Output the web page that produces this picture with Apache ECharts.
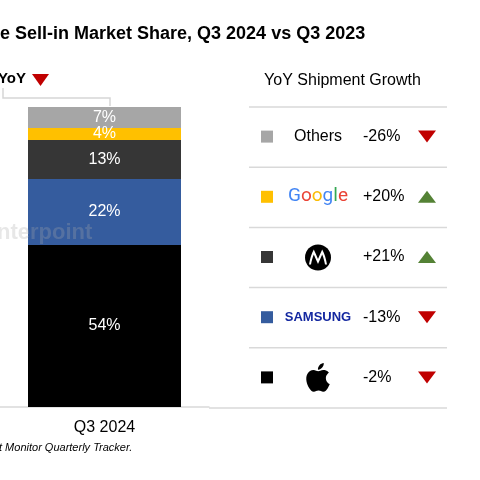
<!DOCTYPE html>
<html><head><meta charset="utf-8">
<script src="https://cdn.jsdelivr.net/npm/echarts@6/dist/echarts.min.js"></script>
<style>html,body{margin:0;padding:0;background:#fff}#c{width:480px;height:480px}</style>
</head><body><div id="c"></div>
<script>
const categories = ['Q3 2024'];
const brands = ['Apple', 'Samsung', 'Motorola', 'Google', 'Others'];
const share = [54, 22, 13, 4, 7];
const growth = [-2, -13, 21, 20, -26];
const brandColors = ['#000000', '#355C9E', '#363636', '#FFC000', '#A6A6A6'];

const FONT = '"Liberation Sans", Arial, sans-serif';
const APPLE_PATH = 'M12.152 6.896c-.948 0-2.415-1.078-3.96-1.04-2.04.027-3.91 1.183-4.961 3.014-2.117 3.675-.546 9.103 1.519 12.09 1.013 1.454 2.208 3.09 3.792 3.039 1.52-.065 2.09-.987 3.935-.987 1.831 0 2.35.987 3.96.948 1.637-.026 2.676-1.48 3.676-2.948 1.156-1.688 1.636-3.325 1.662-3.415-.039-.013-3.182-1.221-3.22-4.857-.026-3.04 2.48-4.494 2.597-4.559-1.429-2.09-3.623-2.324-4.39-2.376-2-.156-3.675 1.09-4.61 1.09zM15.53 3.83c.843-1.012 1.4-2.427 1.245-3.83-1.207.052-2.662.805-3.532 1.818-.78.896-1.454 2.338-1.273 3.714 1.338.104 2.715-.688 3.559-1.701z';
// Motorola batwing M, in a box centred on 0,0
const MOTO_PATH = 'M-9 7 C-8 1 -6.5 -4 -4.2 -8 C-2.6 -4.5 -1.2 -1.5 0 1.5 C1.2 -1.5 2.6 -4.5 4.2 -8 C6.5 -4 8 1 9 7 L7 7 C6.3 3 5.4 0 4.2 -3 C3 0 1.6 3 0 6.5 C-1.6 3 -3 0 -4.2 -3 C-5.4 0 -6.3 3 -7 7 Z';
try {
  echarts.graphic.registerShape('appleLogo', echarts.graphic.extendPath(APPLE_PATH, {}));
  echarts.graphic.registerShape('motoWing', echarts.graphic.extendPath(MOTO_PATH, {}));
} catch (e) { console.log('register failed', e); }

const chart = echarts.init(document.getElementById('c'), null, { renderer: 'canvas' });

const series = brands.map((b, i) => ({
  name: b, type: 'bar', stack: 's', barWidth: 153,
  data: [share[i]],
  itemStyle: { color: brandColors[i] },
  label: { show: true, position: 'inside', formatter: p => p.value + '%', color: '#fff', fontSize: 16, fontFamily: FONT },
  emphasis: { disabled: true }
}));

const graphics = [];
// title
graphics.push({ type: 'text', x: 0, y: 34, style: { text: 'e Sell-in Market Share, Q3 2024 vs Q3 2023', font: 'bold 18px ' + FONT, fill: '#000', textAlign: 'left', textVerticalAlign: 'middle' } });
// YoY
graphics.push({ type: 'text', x: 26, y: 79, style: { text: 'YoY', font: 'bold 15px ' + FONT, fill: '#000', textAlign: 'right', textVerticalAlign: 'middle' } });
graphics.push({ type: 'polygon', shape: { points: [[32, 74], [49, 74], [40.5, 86]] }, style: { fill: '#C00000' } });
graphics.push({ type: 'polyline', shape: { points: [[3, 88], [3, 98], [110, 98], [110, 106]] }, style: { stroke: '#D6D6D6', lineWidth: 1.5, fill: null } });
// watermark
graphics.push({ type: 'text', x: -3, y: 233, z: 100, style: { text: 'nterpoint', font: 'bold 22px ' + FONT, fill: 'rgba(170,170,170,0.28)', textAlign: 'left', textVerticalAlign: 'middle' } });
// footnote
graphics.push({ type: 'text', x: -1, y: 448, style: { text: 't Monitor Quarterly Tracker.', font: 'italic 11px ' + FONT, fill: '#000', textAlign: 'left', textVerticalAlign: 'middle' } });

// right table
graphics.push({ type: 'text', x: 342.5, y: 81, style: { text: 'YoY Shipment Growth', font: '16px ' + FONT, fill: '#000', textAlign: 'center', textVerticalAlign: 'middle' } });
const rowTop = 107, rowH = 60.2;
const n = brands.length;
for (let j = 0; j <= n; j++) {
  const y = rowTop + j * rowH;
  graphics.push({ type: 'line', shape: { x1: j === n ? 209 : 249, y1: y, x2: 447, y2: y }, style: { stroke: '#D9D9D9', lineWidth: 1.5 } });
}
for (let j = 0; j < n; j++) {
  const i = n - 1 - j; // Others at top
  const cy = rowTop + j * rowH + rowH / 2 - 0.5;
  graphics.push({ type: 'rect', shape: { x: 261, y: cy - 6, width: 12, height: 12 }, style: { fill: brandColors[i] } });
  const b = brands[i];
  if (b === 'Others') {
    graphics.push({ type: 'text', x: 318, y: cy, style: { text: 'Others', font: '16px ' + FONT, fill: '#000', textAlign: 'center', textVerticalAlign: 'middle' } });
  } else if (b === 'Google') {
    const gf = '19px Roboto, "Open Sans", sans-serif';
    graphics.push({ type: 'text', x: 318, y: cy - 1, style: {
      text: '{b|G}{r|o}{y|o}{b|g}{g|l}{r|e}', textAlign: 'center', textVerticalAlign: 'middle', font: gf,
      rich: { b: { fill: '#4285F4', font: gf }, r: { fill: '#EA4335', font: gf }, y: { fill: '#FBBC05', font: gf }, g: { fill: '#34A853', font: gf } }
    } });
  } else if (b === 'Motorola') {
    graphics.push({ type: 'circle', shape: { cx: 318, cy: cy + 0.5, r: 13 }, style: { fill: '#000' } });
    graphics.push({ type: 'motoWing', x: 318, y: cy + 0.5, scaleX: 1, scaleY: 1, style: { fill: '#fff' } });
  } else if (b === 'Samsung') {
    graphics.push({ type: 'text', x: 318, y: cy, style: { text: 'SAMSUNG', font: 'bold 13px ' + FONT, fill: '#1428A0', textAlign: 'center', textVerticalAlign: 'middle' } });
  } else if (b === 'Apple') {
    const s = 1.2;
    graphics.push({ type: 'appleLogo', x: 318 - 12 * s, y: cy - 12 * s, scaleX: s, scaleY: s, style: { fill: '#000' } });
  }
  const g = growth[i];
  graphics.push({ type: 'text', x: 363, y: cy, style: { text: (g > 0 ? '+' : '') + g + '%', font: '16px ' + FONT, fill: '#000', textAlign: 'left', textVerticalAlign: 'middle' } });
  const pts = g < 0 ? [[418, cy - 6], [436, cy - 6], [427, cy + 6]] : [[418, cy + 6], [436, cy + 6], [427, cy - 6]];
  graphics.push({ type: 'polygon', shape: { points: pts }, style: { fill: g < 0 ? '#C00000' : '#548235' } });
}

chart.setOption({
  animation: false,
  backgroundColor: '#fff',
  grid: { left: 0, right: 271, top: 107, bottom: 73, containLabel: false },
  xAxis: {
    type: 'category', data: categories,
    axisLine: { show: true, lineStyle: { color: '#D9D9D9', width: 1.5 } },
    axisTick: { show: false },
    axisLabel: { fontSize: 16, color: '#000', fontFamily: FONT, margin: 13 }
  },
  yAxis: { type: 'value', min: 0, max: 100, show: false, splitLine: { show: false } },
  series: series,
  graphic: graphics
});
</script>
</body></html>
